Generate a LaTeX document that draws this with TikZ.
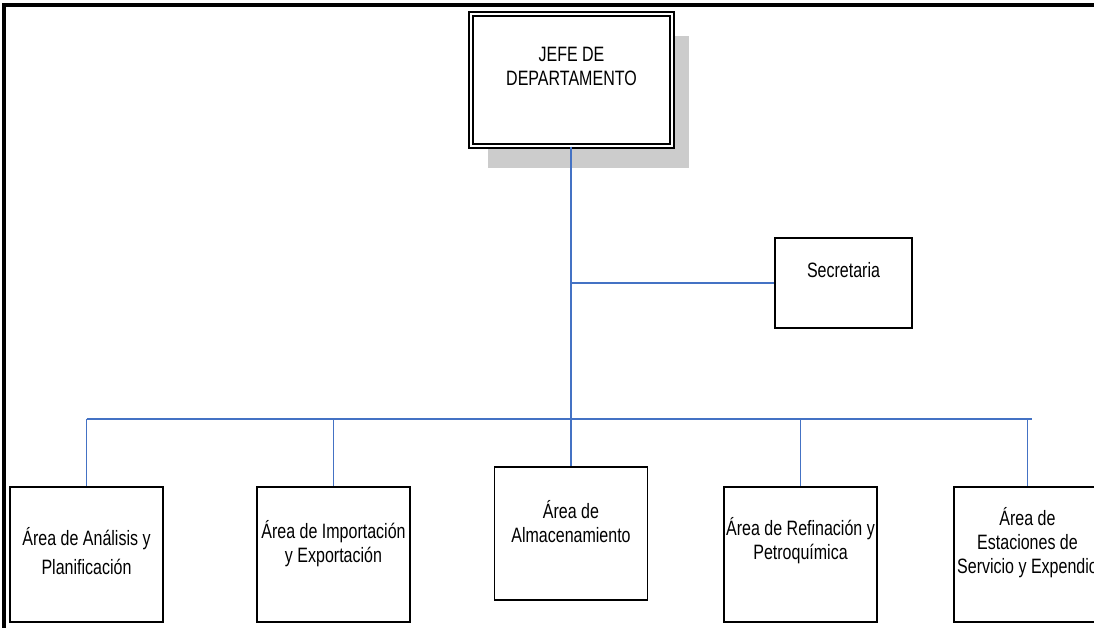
\documentclass[tikz,border=0pt]{standalone}
\usepackage{fontspec}
\setmainfont[FakeStretch=0.77]{Liberation Sans}
\usetikzlibrary{calc,shadows}
\definecolor{linkblue}{HTML}{4472C4}

\begin{document}
\begin{tikzpicture}[x=1pt, y=-1pt,
  caja/.style={draw, fill=white, line width=1.3pt, align=center, inner sep=0pt,
    minimum width=153pt, minimum height=135pt, text depth=27pt,
    font=\fontsize{20.8}{24}\selectfont},
  enlace/.style={draw=linkblue, line width=1.5pt}]
  \useasboundingbox (0,0) rectangle (1094,628);

  % Page frame
  \draw[line width=3.7pt] (3.7,628) -- (3.7,5) -- (1094,5);

  % Head of department
  \node[caja, double, double distance=2.5pt, line width=1.4pt,
        minimum width=201pt, minimum height=132pt,
        drop shadow={shadow xshift=17pt, shadow yshift=-22pt, fill=black!20, opacity=1}]
    (jefe) at (571.5,80) {JEFE DE\\DEPARTAMENTO};

  % Secretary
  \node[caja, minimum width=137pt, minimum height=90pt, text depth=26pt]
    (secre) at (843.5,283) {Secretaria};

  % Areas
  \node[caja, text depth=8pt] (analisis) at (86.5,554.5)
    {Área de Análisis y\\[5pt]Planificación};
  \node[caja] (import) at (333.5,554.5) {Área de Importación\\y Exportación};
  \node[caja, minimum height=133pt, text depth=25pt] (almacen) at (571,533.5)
    {Área de\\Almacenamiento};
  \node[caja, text depth=32pt] (refina) at (800.5,554.5)
    {Área de Refinación y\\Petroquímica};
  \node[caja, minimum width=147pt, text depth=29pt] (estacion) at (1027.5,554.5)
    {Área de\\Estaciones de\\Servicio y Expendio};

  % Connectors
  \coordinate (bar) at (0,419);
  \draw[enlace] (jefe.south -| almacen.north) -- (almacen.north);
  \draw[enlace] (almacen.north |- secre.west) -- (secre.west);
  \draw[enlace] (analisis.north |- bar) -- ($(estacion.north |- bar)+(4,0)$);
  \foreach \n in {analisis, import, refina, estacion}
    \draw[enlace] (\n.north |- bar) -- (\n.north);
\end{tikzpicture}
\end{document}
